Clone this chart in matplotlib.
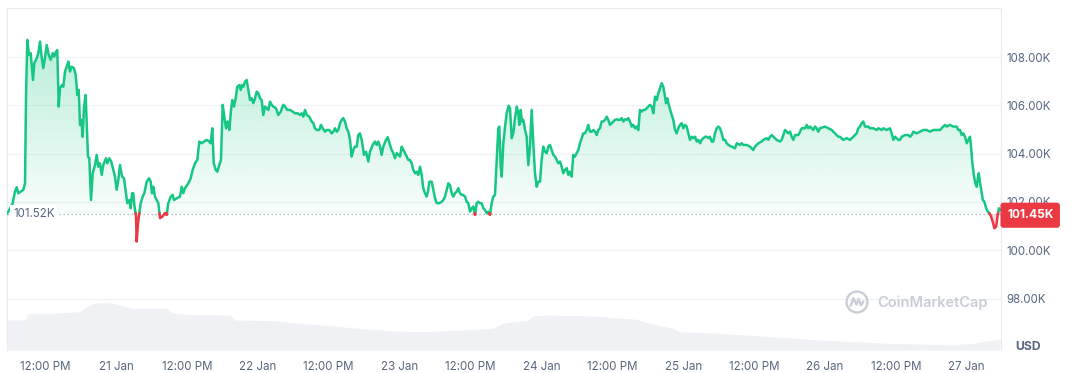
import numpy as np
import matplotlib
matplotlib.use("Agg")
import matplotlib.pyplot as plt
from matplotlib.path import Path
from matplotlib.patches import Circle
from matplotlib.colors import to_rgb
from matplotlib.transforms import blended_transform_factory

# ---------------- data (hours from 21 Jan 00:00, price in K USD) ----------------
times_h = [
    -18.45, -18.06, -17.48, -17.10, -16.81, -16.54, -16.13, -15.69, -15.40, -15.23,
    -15.01, -14.73, -14.44, -14.05, -13.83, -13.42, -13.15, -12.86, -12.64, -12.31,
    -12.07, -11.73, -11.39, -11.05, -10.71, -10.44, -10.16, -9.94, -9.70, -9.48,
    -9.14, -8.92, -8.63, -8.34, -8.07, -7.79, -7.50, -7.11, -6.82, -6.55,
    -6.31, -6.09, -5.87, -5.64, -5.42, -5.13, -4.96, -4.74, -4.52, -4.23,
    -3.94, -3.55, -3.27, -3.00, -2.71, -2.42, -2.15, -1.69, -1.47, -1.13,
    -0.80, -0.46, -0.17, 0.12, 0.39, 0.68, 1.02, 1.35, 1.69, 1.91,
    2.25, 2.49, 2.71, 2.93, 3.10, 3.39, 3.50, 3.72, 3.94, 4.18,
    4.52, 4.79,
    5.20, 5.59, 5.87, 6.09, 6.31, 6.60, 6.89, 7.16, 7.45, 7.84,
    8.29, 8.58, 8.85, 9.26, 9.60, 9.82, 10.27, 10.83, 11.12, 11.39,
    11.68, 12.24, 12.64, 12.98, 13.37, 13.76, 14.10, 14.51, 14.89, 15.35,
    15.79, 16.03, 16.30, 16.54, 16.88, 17.15, 17.48, 17.77, 18.06, 18.33,
    18.62, 18.91, 19.18, 19.47, 19.69, 19.97, 20.26, 20.53, 20.87, 21.11,
    21.33, 21.55, 21.83, 22.12, 22.39, 22.68, 22.97, 23.24, 23.53, 23.82,
    24.09, 24.37, 24.66, 24.93, 25.22, 25.51, 25.78, 26.07, 26.35, 26.62,
    27.08, 27.47, 27.88, 28.32, 28.61, 29.00, 29.45, 29.91, 30.30, 30.75,
    31.14, 31.43, 31.70, 31.99, 32.28, 32.72, 33.12, 33.40, 33.68, 33.97,
    34.41, 34.70, 34.99, 35.38, 35.66, 36.10, 36.51, 36.78, 37.07, 37.36,
    37.63, 37.91, 38.20, 38.47, 38.76, 39.05, 39.32, 39.61, 39.89, 40.17,
    40.45, 40.74, 41.01,
    41.30, 41.59, 41.98, 42.32, 42.71, 42.99, 43.45, 43.84, 44.13, 44.40,
    44.69, 44.97, 45.24, 45.70, 45.99, 46.38, 46.66, 46.94, 47.22, 47.51,
    47.78, 48.07, 48.36, 48.63, 48.92, 49.21, 49.47, 49.76, 50.05, 50.32,
    50.61, 50.90, 51.17, 51.46, 51.74, 52.01, 52.30, 52.59, 52.86, 53.03,
    53.44, 53.71, 54.00, 54.28, 54.72, 55.13, 55.40, 55.69, 55.98, 56.25,
    56.53, 56.82, 57.09, 57.38, 57.67, 57.94, 58.23, 58.51, 58.78, 59.07,
    59.36, 59.63, 59.92, 60.20, 60.48, 60.77, 61.05, 61.32, 61.61, 61.90,
    62.17, 62.46, 62.75, 63.02, 63.30, 63.59, 63.86, 64.15, 64.44, 64.71,
    64.88, 65.12, 65.29, 65.56, 65.85, 66.13, 66.47, 66.69, 66.98, 67.25,
    67.54, 67.83, 68.10, 68.27, 68.50, 68.72, 68.94, 69.24, 69.51, 69.79,
    70.07, 70.36, 70.63, 70.92, 71.21, 71.48, 71.77, 72.05, 72.33, 72.61,
    72.90, 73.17, 73.46, 73.75, 74.02, 74.31, 74.60, 74.87, 75.15, 75.44,
    75.71, 76.00, 76.29, 76.56, 76.84, 77.13, 77.40, 77.69, 77.98, 78.25,
    78.54, 78.82, 79.10, 79.38, 79.67, 79.94, 80.23, 80.52, 80.79, 81.08,
    81.37, 81.64, 81.92, 82.21, 82.48, 82.77, 83.06, 83.33, 83.62, 83.90,
    84.18, 84.46, 84.75, 85.02, 85.31, 85.60, 85.87, 86.16, 86.44, 86.72,
    87.00, 87.29, 87.56, 87.85, 88.14, 88.41, 88.69, 88.98, 89.26, 89.54,
    89.83, 90.10, 90.39, 90.68, 90.95, 91.24, 91.52, 91.80, 92.08, 92.37,
    92.64, 92.93, 93.09, 93.31, 93.65, 94.06, 94.33, 94.62, 94.91, 95.18,
    95.47, 95.75, 96.03, 96.31, 96.60, 96.87, 97.16, 97.45, 97.72, 98.01,
    98.30, 98.57, 98.85, 99.14, 99.42, 99.70, 99.99, 100.26, 100.54, 100.83,
    101.10, 101.39, 101.68, 101.95,
    102.24, 102.53, 102.80, 103.09, 103.38, 103.65, 104.22, 104.78, 105.07, 105.62,
    105.91, 106.19, 106.76, 107.32, 107.87, 108.16, 108.72, 109.29, 109.56, 110.13,
    110.41, 110.70, 110.99, 111.54, 111.83, 112.39, 112.68, 112.95, 113.24, 113.53,
    113.80, 114.09, 114.37, 114.65, 114.94, 115.50, 115.78, 116.07, 116.63, 116.91,
    117.18, 117.47, 118.03, 118.32, 118.60, 118.87, 119.16, 120.01, 120.57, 121.14,
    121.70, 122.26, 122.54, 123.10, 123.68, 124.24, 124.80, 125.37, 125.64, 125.93,
    126.22, 126.49, 126.78, 127.34, 127.63, 128.19, 128.76, 129.03, 129.61, 129.88,
    130.45, 131.01, 131.30, 131.57, 131.86, 132.42, 132.70, 132.99, 133.55, 134.11,
    134.40, 134.69, 134.96, 135.53, 136.09, 136.65, 137.22, 137.78, 138.34, 138.91,
    139.47, 139.76, 140.03, 140.32, 140.61, 141.17, 141.73, 142.30, 142.57, 142.86,
    143.15, 143.42, 143.71, 144.00, 144.27, 144.56, 144.73, 144.95, 145.24, 145.46,
    145.70, 145.87, 146.04, 146.26, 146.55, 146.72, 146.99, 147.28, 147.57, 147.84,
    148.13, 148.42, 148.69, 148.98, 149.20, 149.44, 149.66,
]

price_k = [
    101.52, 101.67, 101.95, 102.43, 102.61, 102.36, 102.43, 102.50, 102.77, 106.36,
    108.71, 108.09, 108.16, 107.05, 107.74, 107.95, 108.16, 108.64, 108.09, 107.54,
    107.88, 108.50, 108.09, 107.88, 108.16, 108.02, 108.22, 108.29, 105.95, 106.71,
    106.84, 106.77, 107.40, 107.60, 107.81, 107.40, 107.60, 107.54, 107.26, 106.43,
    106.64, 105.19, 105.40, 104.70, 105.95, 106.43, 105.26, 103.88, 103.81, 102.08,
    103.19, 103.53, 103.95, 103.46, 103.60, 103.12, 103.53, 103.81, 103.60, 103.81,
    103.67, 103.33, 103.05, 102.50, 102.91, 103.53, 103.05, 102.98, 102.36, 101.95,
    102.08, 101.74, 102.36, 102.36, 101.88, 101.39, 100.36, 101.12, 101.53, 101.95,
    102.22, 102.36,
    102.84, 102.98, 102.84, 102.36, 102.63, 102.22, 102.08, 101.95, 101.33, 101.39,
    101.53, 101.46, 101.95, 102.22, 102.29, 102.08, 102.15, 102.22, 102.63, 102.36,
    102.57, 102.77, 102.98, 103.33, 103.60, 103.74, 104.50, 104.43, 104.50, 104.57,
    104.50, 104.43, 105.05, 103.60, 103.33, 103.25, 103.53, 103.74, 106.02, 105.53,
    105.05, 105.33, 104.98, 105.81, 106.22, 105.95, 106.29, 106.77, 106.84, 106.64,
    106.84, 106.77, 106.98, 107.05, 106.64, 106.22, 106.29, 106.09, 106.29, 106.57,
    106.50, 106.29, 106.22, 105.60, 105.95, 105.88, 105.81, 106.15, 106.02, 105.95,
    105.88, 105.60, 105.74, 106.02, 105.95, 105.81, 105.81, 105.74, 105.67, 105.67,
    105.60, 105.67, 105.53, 105.81, 105.60, 105.53, 105.33, 105.26, 105.05, 104.98,
    104.98, 105.19, 105.05, 104.91, 104.98, 104.98, 104.84, 104.91, 105.05, 104.91,
    104.98, 105.26, 105.40, 105.47, 105.33, 105.05, 104.91, 104.57, 103.88, 104.15,
    104.29, 104.29, 104.77,
    104.84, 104.57, 103.95, 104.08, 103.67, 104.08, 104.36, 104.50, 104.36, 104.50,
    104.29, 103.95, 104.29, 104.57, 104.68, 104.36, 104.15, 104.02, 103.81, 104.02,
    103.95, 103.88, 104.29, 104.15, 104.02, 103.88, 103.74, 103.74, 103.60, 103.33,
    103.19, 103.25, 103.12, 103.46, 103.12, 102.57, 102.36, 102.22, 102.50, 102.84,
    102.84, 102.50, 102.15, 101.95, 101.95, 102.01, 102.08, 102.22, 102.50, 102.77,
    102.70, 102.36, 102.22, 102.36, 102.43, 102.57, 102.36, 102.29, 102.29, 102.22,
    102.01, 101.95, 101.60, 101.74, 101.81, 101.46, 101.95, 102.01, 101.95, 101.95,
    101.74, 101.67, 101.53, 101.60, 101.46, 101.95, 102.22, 102.29, 103.74, 105.05,
    105.12, 103.46, 103.05, 104.43, 105.12, 105.67, 105.98, 105.88, 104.64, 104.84,
    105.47, 105.95, 105.67, 105.19, 105.81, 105.33, 105.40, 104.98, 104.70, 103.53,
    104.29, 105.81, 104.43, 103.19, 102.63, 102.84, 102.84, 103.74, 104.29, 104.08,
    104.02, 104.29, 104.36, 104.15, 103.95, 103.88, 103.74, 103.60, 103.67, 103.46,
    103.19, 103.33, 103.40, 103.12, 103.25, 103.05, 103.95, 103.88, 104.02, 104.15,
    104.43, 104.64, 104.84, 104.84, 104.98, 105.19, 104.91, 104.91, 104.98, 104.91,
    104.77, 104.98, 105.05, 105.33, 105.33, 105.40, 105.53, 105.40, 105.19, 105.26,
    105.33, 105.40, 105.42, 105.40, 105.40, 105.47, 105.33, 105.42, 105.40, 105.47,
    105.33, 105.12, 105.19, 105.05, 105.12, 104.98, 105.81, 105.74, 105.81, 105.81,
    105.88, 105.95, 106.02, 105.95, 105.67, 106.36, 106.22, 106.50, 106.71, 106.92,
    106.77, 106.36, 106.09, 106.29, 105.95, 105.60, 105.40, 104.98, 104.84, 105.05,
    105.19, 105.26, 105.05, 105.19, 105.12, 104.84, 104.57, 104.70, 104.64, 104.70,
    104.50, 104.57, 104.43, 104.57, 104.64, 104.70, 104.70, 104.64, 104.70, 104.50,
    104.50, 104.84, 105.05, 105.12,
    105.05, 104.84, 104.57, 104.57, 104.43, 104.36, 104.29, 104.22, 104.43, 104.36,
    104.43, 104.36, 104.36, 104.29, 104.15, 104.29, 104.43, 104.50, 104.57, 104.64,
    104.57, 104.70, 104.77, 104.64, 104.57, 104.50, 104.57, 104.77, 104.98, 104.91,
    104.84, 104.91, 104.70, 104.57, 104.77, 104.77, 104.91, 105.05, 105.05, 105.19,
    105.05, 105.12, 104.98, 105.12, 105.05, 104.91, 105.05, 105.12, 105.05, 104.98,
    104.84, 104.70, 104.70, 104.57, 104.64, 104.57, 104.70, 104.84, 105.05, 105.12,
    105.26, 105.33, 105.12, 105.12, 105.05, 105.05, 104.98, 105.05, 104.98, 105.05,
    104.98, 105.05, 104.84, 104.57, 104.70, 104.57, 104.57, 104.70, 104.77, 104.77,
    104.70, 104.77, 104.91, 104.84, 104.91, 104.98, 104.98, 104.91, 104.98, 104.98,
    104.98, 105.05, 105.12, 105.19, 105.12, 105.19, 105.12, 105.12, 104.98, 104.98,
    104.77, 104.84, 104.70, 104.43, 104.57, 104.70, 104.29, 103.60, 103.05, 102.77,
    102.63, 102.98, 103.19, 102.77, 102.36, 102.08, 102.01, 101.74, 101.60, 101.53,
    101.39, 101.16, 100.91, 100.98, 101.39, 101.74, 101.67,
]

# volume (arbitrary units)
vol_t = [-18.45, -15.40, -14.84, -11.17, -6.09, -4.96, -3.55, -0.46, 1.24, 2.93,
         8.58, 9.43, 11.97, 19.30, 20.14, 26.62, 31.14, 36.78, 41.01, 46.94,
         52.59, 58.23, 63.86, 65.56, 67.25, 69.51, 70.63, 72.90, 80.79, 88.14,
         89.83, 94.33, 95.47, 102.24, 110.70, 119.16, 130.45, 141.73, 145.12, 147.38,
         149.66]
vol_b = [60, 60, 73.4, 73.4, 76.6, 86.6, 94.6, 93.4, 88, 83.4,
         83.4, 74.6, 71.4, 70, 60, 58.6, 53.4, 48, 43.4, 38,
         36.6, 40, 43.4, 53.4, 56.6, 58.6, 68, 70, 68, 61.4,
         54.6, 43.4, 36.6, 33.4, 26.6, 20, 13.4, 10, 13.4, 18.6,
         21.4]

base_price = 101.52
current_price = 101.45
y_ticks = [98, 100, 102, 104, 106, 108]
x_tick_labels = ["12:00 PM", "21 Jan", "12:00 PM", "22 Jan", "12:00 PM", "23 Jan",
                 "12:00 PM", "24 Jan", "12:00 PM", "25 Jan", "12:00 PM", "26 Jan",
                 "12:00 PM", "27 Jan"]
x_tick_hours = list(range(-12, 145, 12))

# ---------------- style ----------------
plt.rcParams['font.family'] = ['Inter', 'DejaVu Sans']
GREEN = '#16c784'
RED = '#ea3943'
GRAY = '#58667e'
GRID = '#eff2f5'
FS = 8.3

fig = plt.figure(figsize=(10.75, 3.73), dpi=100)
pos = [7 / 1075, 1 - 350 / 373, 994 / 1075, 342 / 373]
xlim = (-18.45, 149.80)
ylim = (95.87, 110.03)

# volume axes (behind)
axv = fig.add_axes(pos)
axv.set_axis_off()
axv.fill_between(vol_t, 0, vol_b, color='#eff1f5', lw=0)
axv.set_xlim(*xlim)
axv.set_ylim(0, 684)

ax = fig.add_axes(pos)
ax.patch.set_alpha(0)

t = np.array(times_h)
p = np.array(price_k)

# insert crossing points with the baseline
xs, ys = [t[0]], [p[0]]
for i in range(1, len(t)):
    a, b = p[i - 1] - base_price, p[i] - base_price
    if a * b < 0:
        f = a / (a - b)
        xs.append(t[i - 1] + f * (t[i] - t[i - 1]))
        ys.append(base_price)
    xs.append(t[i])
    ys.append(p[i])
xs, ys = np.array(xs), np.array(ys)
g = np.where(ys >= base_price - 1e-9, ys, np.nan)
r = np.where(ys <= base_price + 1e-9, ys, np.nan)

# gradient fill above baseline
rgb = to_rgb(GREEN)
n = 256
grad = np.zeros((n, 1, 4))
grad[..., :3] = rgb
grad[..., 3] = np.linspace(0.03, 0.30, n)[:, None]
im = ax.imshow(grad, extent=[t[0], t[-1], base_price, p.max()], origin='lower',
               aspect='auto', zorder=1, interpolation='bilinear')
poly = ax.fill_between(xs, base_price, np.maximum(ys, base_price),
                       facecolor='none', edgecolor='none')
clip = Path.make_compound_path(*poly.get_paths())
im.set_clip_path(clip, transform=ax.transData)

# red fill below baseline
ax.fill_between(xs, np.minimum(ys, base_price), base_price, color=RED,
                alpha=0.18, lw=0, zorder=1)

ax.plot(xs, g, color=GREEN, lw=1.8, zorder=3, solid_joinstyle='round')
ax.plot(xs, r, color=RED, lw=1.8, zorder=3, solid_joinstyle='round')

ax.axhline(base_price, color='#9aa3b2', lw=0.9, ls=(0, (1, 2.2)), zorder=2)

ax.set_xlim(*xlim)
ax.set_ylim(*ylim)

ax.yaxis.tick_right()
ax.set_yticks(y_ticks)
ax.set_yticklabels([f"{v:.2f}K" for v in y_ticks])
ax.set_xticks(x_tick_hours)
ax.set_xticklabels(x_tick_labels)
ax.tick_params(axis='y', length=0, pad=4, labelsize=FS, labelcolor=GRAY)
ax.tick_params(axis='x', length=0, pad=8, labelsize=FS, labelcolor=GRAY)
ax.grid(axis='y', color=GRID, lw=0.8)
ax.set_axisbelow(True)
for s in ['top', 'left', 'right']:
    ax.spines[s].set_color('#eaecef')
    ax.spines[s].set_linewidth(0.8)
ax.spines['bottom'].set_visible(False)

tr = blended_transform_factory(ax.transAxes, ax.transData)
ax.text(6 / 994, base_price, "101.52K", transform=tr, ha='left', va='center',
        fontsize=FS, color=GRAY, zorder=5,
        bbox=dict(boxstyle='square,pad=0.25', fc='white', ec='none'))
ax.text(1 + 6 / 994, current_price, f"{current_price:.2f}K", transform=tr,
        ha='left', va='center', fontsize=8.6, fontweight='bold', color='white',
        zorder=6, clip_on=False,
        bbox=dict(boxstyle='round,pad=0.55,rounding_size=0.25', fc=RED, ec='none'))

fig.text(1028 / 1075, 1 - 347 / 373, 'USD', ha='center', va='center',
         fontsize=8.8, fontweight='bold', color=GRAY)

# watermark
WM = '#c9ced6'
fig.text(877 / 1075, 1 - 303 / 373, 'CoinMarketCap', ha='left', va='center',
         fontsize=10.5, fontweight='semibold', color=WM)
lax = fig.add_axes([845 / 1075, 1 - 314 / 373, 24 / 1075, 24 / 373])
lax.set_axis_off()
lax.set_xlim(-1.15, 1.15)
lax.set_ylim(-1.15, 1.15)
lax.add_patch(Circle((0, 0), 1.0, fill=False, ec=WM, lw=1.7))
lax.plot([-0.6, -0.35, -0.05, 0.15, 0.38, 0.62], [-0.35, 0.38, -0.25, 0.3, -0.3, 0.05],
         color=WM, lw=1.7, solid_capstyle='round', solid_joinstyle='round')

fig.savefig('out.png', dpi=100)
